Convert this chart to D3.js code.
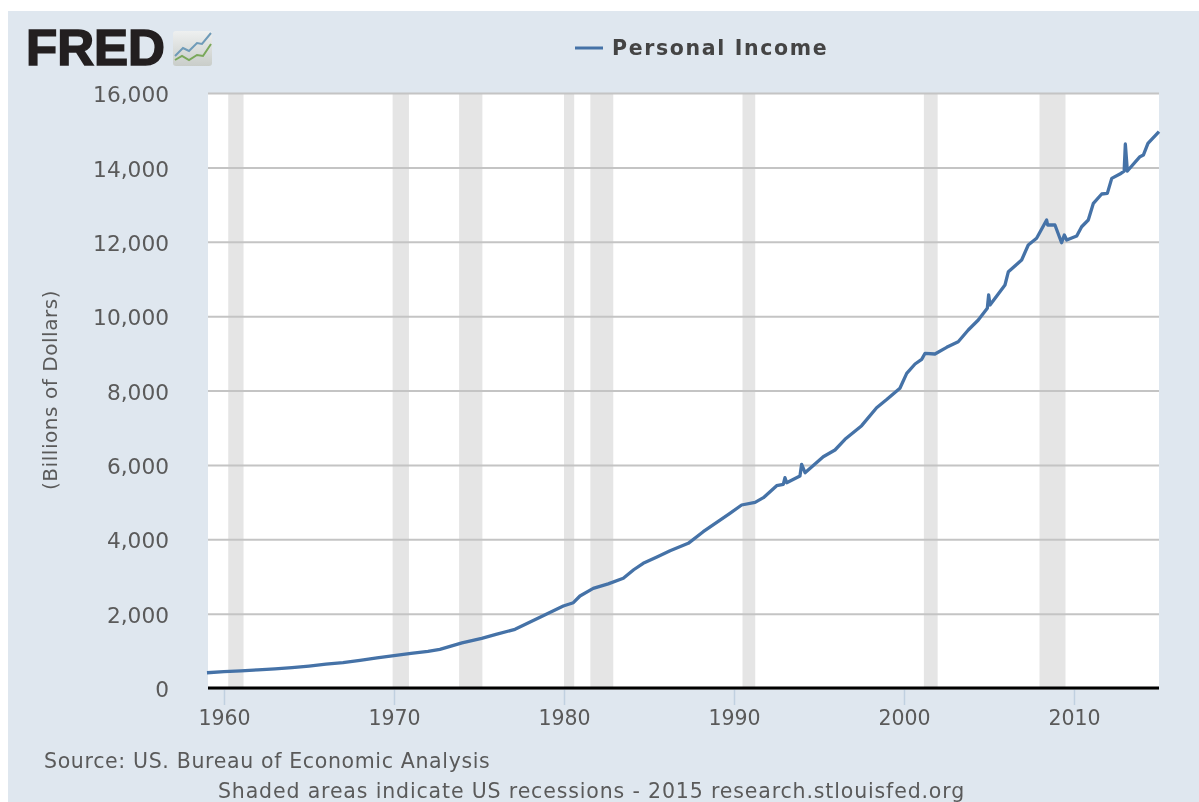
<!DOCTYPE html>
<html><head><meta charset="utf-8">
<script src="https://cdnjs.cloudflare.com/ajax/libs/d3/7.8.5/d3.min.js"></script>
<style>html,body{margin:0;padding:0;background:#fff;overflow:hidden}svg{display:block;filter:blur(0.5px)}text{font-family:"DejaVu Sans",sans-serif}</style>
</head><body><svg id="c" width="1199" height="802"></svg>
<script>
const years=[1959,1960,1961,1962,1963,1964,1965,1966,1967,1968,1969,1970,1971,1972,1972.7,1974,1975.16,1976,1977.12,1978.59,1979.96,1980.55,1980.94,1981.72,1982.6,1983.49,1984.1,1984.66,1985.5,1986.24,1987.31,1988.19,1989.18,1989.76,1990.45,1991.24,1991.73,1992.51,1992.9,1993,1993.1,1993.88,1993.98,1994.18,1995.25,1995.94,1996.53,1997.51,1998.39,1999,1999.76,2000.16,2000.65,2001.04,2001.24,2001.82,2002.51,2003.19,2003.78,2004.37,2004.9,2004.98,2005.06,2005.94,2006.14,2006.92,2007.31,2007.8,2008.39,2008.45,2008.88,2009.27,2009.43,2009.57,2010.16,2010.45,2010.84,2011.14,2011.63,2011.96,2012.22,2012.7,2012.95,2013.02,2013.14,2013.88,2014.08,2014.35,2015];
const income=[410,440,460,490,515,550,590,640,685,745,810,868,930,985,1040,1215,1336,1440,1578,1900,2205,2294,2474,2680,2800,2950,3180,3353,3530,3692,3890,4203,4517,4697,4921,4993,5118,5441,5477,5655,5520,5700,6015,5790,6220,6400,6687,7054,7537,7763,8059,8462,8712,8838,9000,8981,9161,9312,9627,9896,10210,10568,10300,10837,11195,11509,11912,12092,12585,12450,12450,11974,12181,12047,12154,12404,12585,13033,13284,13301,13704,13820,13900,14628,13902,14287,14332,14647,14960];
const recessionStart=[1960.25,1969.92,1973.83,1980,1981.55,1990.5,2001.17,2007.97];
const recessionEnd=[1961.15,1970.88,1975.2,1980.6,1982.9,1991.25,2001.98,2009.5];
const yTicks=[0,2000,4000,6000,8000,10000,12000,14000,16000];
const xTicks=[1960,1970,1980,1990,2000,2010];
const seriesName="Personal Income";
const yAxisLabel="(Billions of Dollars)";
const sourceText="Source: US. Bureau of Economic Analysis";
const noteText="Shaded areas indicate US recessions - 2015 research.stlouisfed.org";

const svg=d3.select("#c");
const grad=svg.append("defs").append("linearGradient").attr("id","lg").attr("x1",0).attr("x2",0).attr("y1",0).attr("y2",1);
grad.append("stop").attr("offset",0).attr("stop-color","#eef0f0");
grad.append("stop").attr("offset",1).attr("stop-color","#c9cdc9");
svg.append("rect").attr("x",8).attr("y",11).attr("width",1191).attr("height",791).attr("fill","#dfe7ef");
const x=d3.scaleLinear().domain([1959.06,2015]).range([208,1159]);
const y=d3.scaleLinear().domain([0,16000]).range([688,93]);
const textCol="#5a5a5a";
svg.append("rect").attr("x",208).attr("y",93).attr("width",951).attr("height",595).attr("fill","#fff");
svg.append("g").selectAll("rect").data(recessionStart).join("rect")
  .attr("x",d=>x(d)).attr("width",(d,i)=>x(recessionEnd[i])-x(d)).attr("y",93).attr("height",595).attr("fill","#e5e5e5");
const gy=svg.append("g").attr("transform","translate(208,0)")
  .call(d3.axisLeft(y).tickValues(yTicks).tickSize(-951).tickPadding(39).tickFormat(d3.format(",")));
gy.select(".domain").remove();
gy.selectAll(".tick line").attr("stroke","#c4c4c4").attr("stroke-width",2);
gy.selectAll(".tick text").attr("fill",textCol).style("font-size","21.7px").attr("dy","0.4em").attr("font-family",null);
const gx=svg.append("g").attr("transform","translate(0,688)")
  .call(d3.axisBottom(x).tickValues(xTicks).tickSize(17).tickPadding(5).tickFormat(d3.format("d")));
gx.select(".domain").remove();
gx.selectAll(".tick line").attr("stroke","#c0d0e0").attr("stroke-width",1.5);
gx.selectAll(".tick text").attr("fill",textCol).style("font-size","20.5px").attr("font-family",null);
svg.append("path").datum(years.map((d,i)=>[d,income[i]]))
  .attr("fill","none").attr("stroke","#4572a7").attr("stroke-width",3.3).attr("stroke-linejoin","round")
  .attr("d",d3.line().x(d=>x(d[0])).y(d=>y(d[1])));
svg.append("line").attr("x1",208).attr("x2",1159).attr("y1",688).attr("y2",688).attr("stroke","#000").attr("stroke-width",3);
svg.append("text").attr("transform","translate(57,390) rotate(-90)").attr("text-anchor","middle").attr("fill",textCol).style("font-size","20px").style("letter-spacing","0.55px").text(yAxisLabel);
svg.append("line").attr("x1",575).attr("x2",603).attr("y1",48).attr("y2",48).attr("stroke","#4572a7").attr("stroke-width",3);
svg.append("text").attr("x",612).attr("y",55).attr("fill","#444").attr("font-weight","bold").style("font-size","20.5px").style("letter-spacing","1.65px").text(seriesName);
svg.append("text").attr("x",44).attr("y",768).attr("fill",textCol).style("font-size","20.5px").style("letter-spacing","0.65px").text(sourceText);
svg.append("text").attr("x",218).attr("y",798).attr("fill",textCol).style("font-size","20.5px").style("letter-spacing","0.85px").text(noteText);
// logo
svg.append("text").attr("x",26).attr("y",65).attr("fill","#231f20").attr("font-weight","bold").style("font-family","'Liberation Sans'").style("font-size","50px").attr("stroke","#231f20").attr("stroke-width",1.6).attr("textLength",139).attr("lengthAdjust","spacingAndGlyphs").text("FRED");
const logoGroup=svg.append("g");
logoGroup.append("rect").attr("x",173).attr("y",31).attr("width",39).attr("height",35).attr("rx",3).attr("fill","url(#lg)");
const logoLine=d3.line();
logoGroup.append("path").attr("d",logoLine([[175,56],[183,48],[189,51],[197,43],[202,44],[211,33]])).attr("fill","none").attr("stroke","#6f9bb8").attr("stroke-width",2);
logoGroup.append("path").attr("d",logoLine([[175,60],[182,56],[189,60],[197,55],[203,56],[211,44]])).attr("fill","none").attr("stroke","#7aa85a").attr("stroke-width",2);
</script></body></html>
